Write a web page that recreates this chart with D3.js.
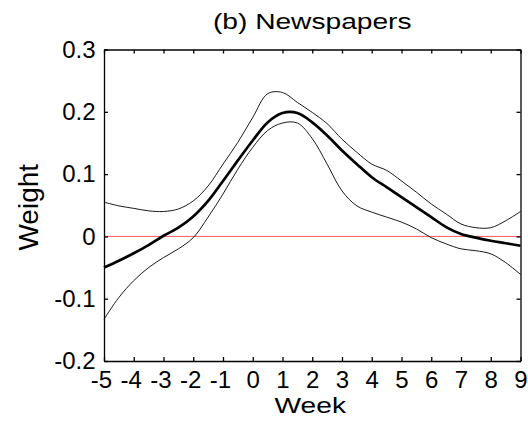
<!DOCTYPE html>
<meta charset="utf-8">
<style>
body { margin: 0; background: #fff; }
text { font-family: "Liberation Sans", Arial, sans-serif; fill: #000; }
.axis path, .axis line { stroke: #000; stroke-width: 1.3; fill: none; }
.axis text { font-family: "Liberation Sans", Arial, sans-serif; font-size: 24px; }
</style>
<body>
<div id="chart"></div>
<script src="https://cdnjs.cloudflare.com/ajax/libs/d3/7.8.5/d3.min.js"></script>
<script>
// weeks relative to event, sampled every half week
var weeks = [-5,-4.5,-4,-3.5,-3,-2.5,-2,-1.5,-1,-0.5,0,0.5,1,1.5,2,2.5,3,3.5,4,4.5,5,5.5,6,6.5,7,7.5,8,8.5,9];
var weight = [-0.050,-0.039,-0.027,-0.014,0.001,0.014,0.032,0.057,0.089,0.122,0.154,0.183,0.198,0.198,0.183,0.162,0.138,0.116,0.095,0.079,0.063,0.047,0.031,0.015,0.004,-0.002,-0.007,-0.011,-0.015];
var upper = [0.055,0.049,0.045,0.041,0.040,0.044,0.057,0.081,0.116,0.151,0.191,0.229,0.231,0.215,0.199,0.181,0.156,0.135,0.116,0.106,0.089,0.071,0.052,0.036,0.020,0.014,0.014,0.025,0.040];
var lower = [-0.133,-0.098,-0.071,-0.050,-0.034,-0.020,-0.002,0.031,0.068,0.108,0.143,0.170,0.182,0.182,0.157,0.116,0.073,0.049,0.039,0.031,0.023,0.012,-0.002,-0.012,-0.020,-0.023,-0.028,-0.042,-0.061];
var xTicks = [-5,-4,-3,-2,-1,0,1,2,3,4,5,6,7,8,9];
var yTicks = [-0.2,-0.1,0,0.1,0.2,0.3];

var margin = {top: 49.5, right: 7.5, bottom: 63, left: 104},
    width = 528 - margin.left - margin.right,
    height = 424 - margin.top - margin.bottom;

var svg = d3.select("#chart").append("svg")
    .attr("width", 528)
    .attr("height", 424)
  .append("g")
    .attr("transform", "translate(" + margin.left + "," + margin.top + ")");

var x = d3.scaleLinear().domain([-5, 9]).range([0, width]);
var y = d3.scaleLinear().domain([-0.2, 0.3]).range([height, 0]);

// zero reference
svg.append("line")
    .attr("x1", x(-5)).attr("x2", x(9))
    .attr("y1", y(0)).attr("y2", y(0))
    .attr("stroke", "#ff5a5a")
    .attr("stroke-width", 1);

var line = d3.line()
    .x(function(d, i) { return x(weeks[i]); })
    .y(function(d) { return y(d); })
    .curve(d3.curveCatmullRom);

svg.append("path").attr("d", line(upper))
    .attr("fill", "none").attr("stroke", "#000").attr("stroke-width", 0.9);
svg.append("path").attr("d", line(lower))
    .attr("fill", "none").attr("stroke", "#000").attr("stroke-width", 0.9);
svg.append("path").attr("d", line(weight))
    .attr("fill", "none").attr("stroke", "#000").attr("stroke-width", 2.7);

// box with inward ticks
var xb = svg.append("g").attr("class", "axis")
    .attr("transform", "translate(0," + height + ")")
    .call(d3.axisBottom(x).tickValues(xTicks).tickSizeInner(-4).tickSizeOuter(0).tickPadding(9.5)
      .tickFormat(function(d) { return String(d); }));
xb.selectAll("text").attr("dx", function(d) { return d < 0 ? -3 : 0; });

svg.append("g").attr("class", "axis")
    .call(d3.axisTop(x).tickValues(xTicks).tickSizeInner(-4).tickSizeOuter(0).tickFormat(""));
svg.append("g").attr("class", "axis")
    .call(d3.axisLeft(y).tickValues(yTicks).tickSizeInner(-4).tickSizeOuter(0).tickPadding(8.5)
      .tickFormat(function(d) { return d === 0 ? "0" : d.toFixed(1); }));
svg.append("g").attr("class", "axis")
    .attr("transform", "translate(" + width + ",0)")
    .call(d3.axisRight(y).tickValues(yTicks).tickSizeInner(-4).tickSizeOuter(0).tickFormat(""));

svg.selectAll(".axis text").attr("fill", "#000");

// title and axis labels (glyphs in the original are drawn wide)
svg.append("text")
    .attr("transform", "translate(" + (width / 2) + "," + (29 - margin.top) + ") scale(1.28,1)")
    .attr("text-anchor", "middle")
    .style("font-size", "22px")
    .text("(b) Newspapers");

svg.append("text")
    .attr("transform", "translate(" + (width / 2 - 2) + "," + (413 - margin.top) + ") scale(1.28,1)")
    .attr("text-anchor", "middle")
    .style("font-size", "22px")
    .text("Week");

svg.append("text")
    .attr("transform", "translate(" + (38 - margin.left) + "," + (height / 2 + 2) + ") rotate(-90)")
    .attr("text-anchor", "middle")
    .style("font-size", "28px")
    .text("Weight");
</script>
</body>
